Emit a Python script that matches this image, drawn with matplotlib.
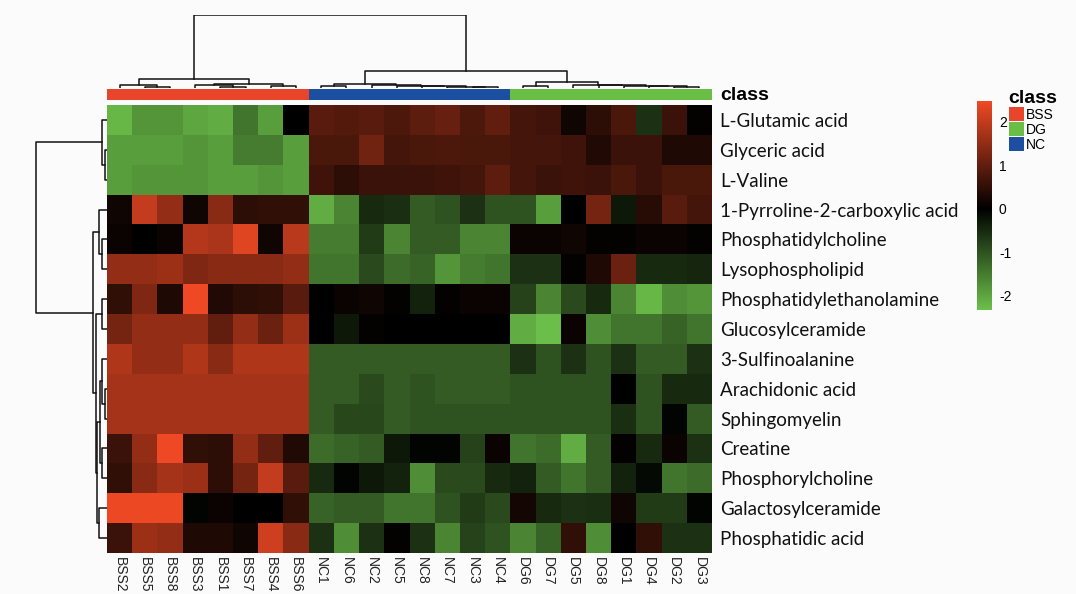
import numpy as np
import matplotlib
matplotlib.use("Agg")
import matplotlib.pyplot as plt
from matplotlib.colors import LinearSegmentedColormap, Normalize, ListedColormap
from matplotlib.patches import Patch

# sample order as in the clustered heatmap
samples = ["BSS2", "BSS5", "BSS8", "BSS3", "BSS1", "BSS7", "BSS4", "BSS6",
           "NC1", "NC6", "NC2", "NC5", "NC8", "NC7", "NC3", "NC4",
           "DG6", "DG7", "DG5", "DG8", "DG1", "DG4", "DG2", "DG3"]
sample_class = ["BSS"] * 8 + ["NC"] * 8 + ["DG"] * 8

metabolites = ["L-Glutamic acid", "Glyceric acid", "L-Valine",
               "1-Pyrroline-2-carboxylic acid", "Phosphatidylcholine",
               "Lysophospholipid", "Phosphatidylethanolamine", "Glucosylceramide",
               "3-Sulfinoalanine", "Arachidonic acid", "Sphingomyelin", "Creatine",
               "Phosphorylcholine", "Galactosylceramide", "Phosphatidic acid"]

# z-scores (rows = metabolites, cols = samples)
glutamic = [-2.2, -1.8, -1.8, -2.0, -2.1, -1.4, -1.9, 0.0, 0.9, 0.85, 0.9, 0.8, 0.95, 1.05, 0.8, 1.0, 0.7, 0.65, 0.15, 0.45, 0.75, -0.6, 0.6, 0.05]
glyceric = [-1.9, -1.9, -1.9, -1.8, -1.9, -1.5, -1.5, -1.9, 0.75, 0.75, 1.15, 0.7, 0.75, 0.8, 0.75, 0.75, 0.7, 0.7, 0.65, 0.35, 0.6, 0.6, 0.3, 0.3]
valine = [-1.9, -1.8, -1.8, -1.8, -1.9, -1.9, -1.8, -1.9, 0.65, 0.45, 0.6, 0.6, 0.6, 0.65, 0.7, 0.95, 0.7, 0.6, 0.65, 0.6, 0.75, 0.6, 0.75, 0.75]
pyrroline = [0.15, 2.0, 1.5, 0.15, 1.4, 0.45, 0.5, 0.5, -2.1, -1.6, -0.5, -0.55, -1.1, -1.0, -0.6, -1.0, -1.0, -1.9, 0.0, 1.2, -0.3, 0.4, 0.9, 0.7]
pc = [0.1, 0.0, 0.1, 1.85, 1.75, 2.3, 0.15, 1.9, -1.5, -1.5, -0.7, -1.6, -1.1, -1.1, -1.6, -1.6, 0.1, 0.1, 0.15, 0.05, 0.05, 0.1, 0.1, 0.05]
lyso = [1.5, 1.5, 1.6, 1.3, 1.4, 1.4, 1.4, 1.5, -1.4, -1.4, -0.9, -1.3, -1.2, -1.8, -1.5, -1.4, -0.6, -0.6, 0.05, 0.3, 1.1, -0.5, -0.5, -0.45]
pe = [0.5, 1.3, 0.3, 2.45, 0.35, 0.45, 0.5, 0.9, 0.0, 0.1, 0.15, 0.05, -0.4, 0.05, 0.1, 0.1, -0.8, -1.6, -0.9, -0.5, -1.6, -2.2, -1.7, -1.8]
glccer = [1.2, 1.5, 1.5, 1.5, 1.0, 1.5, 1.1, 1.6, 0.0, -0.3, 0.05, 0.0, 0.0, 0.0, 0.0, 0.0, -2.1, -2.3, 0.1, -1.7, -1.4, -1.4, -1.2, -1.4]
sulfino = [1.8, 1.5, 1.5, 1.8, 1.4, 1.8, 1.8, 1.8, -1.1, -1.1, -1.1, -1.1, -1.1, -1.1, -1.1, -1.1, -0.6, -1.0, -0.6, -1.0, -0.6, -1.1, -1.1, -0.6]
arachidonic = [1.7, 1.7, 1.7, 1.7, 1.7, 1.7, 1.7, 1.7, -1.1, -1.1, -0.9, -1.1, -1.0, -1.1, -1.1, -1.1, -1.0, -1.0, -1.0, -1.0, 0.0, -1.0, -0.5, -0.5]
sphingo = [1.7, 1.7, 1.7, 1.7, 1.7, 1.7, 1.7, 1.7, -1.1, -0.85, -0.85, -1.1, -1.0, -1.0, -1.0, -1.0, -1.0, -1.0, -1.0, -1.0, -0.55, -1.0, -0.05, -1.1]
creatine = [0.6, 1.5, 2.45, 0.5, 0.45, 1.5, 1.0, 0.35, -1.3, -1.2, -1.1, -0.3, -0.05, -0.05, -0.8, 0.1, -1.4, -1.3, -2.1, -1.1, 0.05, -0.5, 0.1, -0.6]
phosphoryl = [0.5, 1.4, 1.7, 1.6, 0.45, 1.2, 2.0, 0.9, -0.5, -0.05, -0.3, -0.4, -1.7, -0.9, -0.9, -0.5, -0.4, -1.1, -1.4, -1.1, -0.4, -0.1, -1.4, -1.3]
galcer = [2.4, 2.4, 2.4, -0.05, 0.1, 0.0, 0.0, 0.5, -1.2, -1.1, -1.1, -1.4, -1.4, -1.0, -0.7, -0.9, 0.2, -0.5, -0.6, -0.55, 0.15, -0.7, -0.7, -0.05]
pa = [0.6, 1.6, 1.5, 0.3, 0.3, 0.15, 2.1, 1.4, -0.6, -1.7, -0.6, 0.05, -0.6, -1.6, -0.8, -1.0, -1.6, -1.2, 0.5, -1.7, 0.0, 0.5, -0.6, -0.6]

# dendrograms as (left, right, merge height), leaves are positions in the order above
col_tree = (((0, (1, 2, 1.5), 3), ((3, (4, 5, 1.5), 3), (6, 7, 2), 4), 9),
            (((8, 9, 2), (10, (11, (12, (13, (14, 15, 1), 1.5), 2), 2.5), 3), 4),
             ((16, 17, 2.5), (18, (19, (20, (21, (22, 23, 1.5), 2), 2.5), 3), 3.5), 6), 17),
            73)
row_tree = ((0, (1, 2, 1.5), 5),
            ((3, (4, 5, 5), 8),
             ((6, 7, 5),
              (((8, (9, 10, 1.5), 5), (11, 12, 5), 7), (13, 14, 8), 9.7), 11),
             14.3),
            71)

class_colors = {"BSS": "#e8452a", "DG": "#6abd45", "NC": "#1c4fa0"}
vmin, vmax = -2.33, 2.47

data = np.array([glutamic, glyceric, valine, pyrroline, pc, lyso, pe, glccer,
                 sulfino, arachidonic, sphingo, creatine, phosphoryl, galcer, pa])

cmap = LinearSegmentedColormap.from_list("gbr", [(0, "#6cc04a"), (-vmin / (vmax - vmin), "#000000"), (1, "#f04a24")])
norm = Normalize(vmin, vmax)


def draw_tree(ax, node, orient):
    # returns (leaf position, height) of node and draws its links
    if isinstance(node, int):
        return node + 0.5, 0.0
    a, b, h = node
    pa_, ha = draw_tree(ax, a, orient)
    pb, hb = draw_tree(ax, b, orient)
    xs = [pa_, pa_, pb, pb]
    ys = [ha, h, h, hb]
    if orient == "top":
        ax.plot(xs, ys, color="#111111", lw=1.1)
    else:
        ax.plot(ys, xs, color="#111111", lw=1.1)
    return (pa_ + pb) / 2, h


W, H = 1076, 594
fig = plt.figure(figsize=(W / 100, H / 100), dpi=100, facecolor="#fbfbfb")


def px_axes(x0, y0, x1, y1):
    return fig.add_axes([x0 / W, 1 - y1 / H, (x1 - x0) / W, (y1 - y0) / H])


nrow, ncol = data.shape

# heatmap
ax = px_axes(107, 105, 712, 553)
ax.pcolormesh(np.arange(ncol + 1), np.arange(nrow + 1), data, cmap=cmap, norm=norm)
ax.set_xlim(0, ncol)
ax.set_ylim(nrow, 0)
ax.set_xticks(np.arange(ncol) + 0.5)
ax.set_xticklabels(samples, rotation=-90, fontsize=10, family="Liberation Sans", color="#222222")
ax.set_yticks(np.arange(nrow) + 0.5)
ax.set_yticklabels(metabolites, fontsize=13.5, family="Lato", color="#111111")
ax.yaxis.tick_right()
ax.tick_params(length=0)
ax.tick_params(axis="y", pad=6)
ax.tick_params(axis="x", pad=3)
for s in ax.spines.values():
    s.set_visible(False)

# class annotation bar
axa = px_axes(107, 89, 712, 100)
axa.pcolormesh(np.arange(ncol + 1), [0, 1], [list(range(ncol))],
               cmap=ListedColormap([class_colors[c] for c in sample_class]))
axa.set_xlim(0, ncol)
axa.set_xticks([])
axa.set_yticks([])
for s in axa.spines.values():
    s.set_visible(False)
fig.text(720 / W, 1 - 95 / H, "class", fontsize=14, fontweight="bold",
         family="Liberation Sans", va="center", ha="left")

# column dendrogram
axd = px_axes(107, 15, 712, 88)
draw_tree(axd, col_tree, "top")
axd.set_xlim(0, ncol)
axd.set_ylim(0, 73)
axd.axis("off")

# row dendrogram
axr = px_axes(35, 105, 107, 553)
draw_tree(axr, row_tree, "left")
axr.set_ylim(nrow, 0)
axr.set_xlim(72, 0)
axr.axis("off")

# colour bar
axc = px_axes(977, 101, 992, 310)
grad = np.linspace(vmin, vmax, 256).reshape(-1, 1)
axc.imshow(grad, cmap=cmap, norm=norm, aspect="auto", origin="lower",
           extent=[0, 1, vmin, vmax])
axc.set_xticks([])
axc.yaxis.tick_right()
axc.set_yticks([-2, -1, 0, 1, 2])
axc.set_yticklabels(["-2", "-1", "0", "1", "2"], fontsize=10, family="Liberation Sans")
axc.tick_params(length=0, pad=5)
for s in axc.spines.values():
    s.set_visible(False)

# class legend
handles = [Patch(facecolor=class_colors[c], edgecolor="none") for c in ["BSS", "DG", "NC"]]
leg = fig.legend(handles, ["BSS", "DG", "NC"], loc="upper left",
                 bbox_to_anchor=(1003 / W, 1 - 84 / H), frameon=False, title="class",
                 prop={"family": "Liberation Sans", "size": 10},
                 handlelength=1.1, handleheight=1.1, handletextpad=0.15,
                 labelspacing=0.05, borderaxespad=0)
leg.get_title().set_fontweight("bold")
leg.get_title().set_fontsize(14)
leg.get_title().set_family("Liberation Sans")
leg._legend_box.align = "left"

fig.savefig("out.png", dpi=100, facecolor=fig.get_facecolor())
